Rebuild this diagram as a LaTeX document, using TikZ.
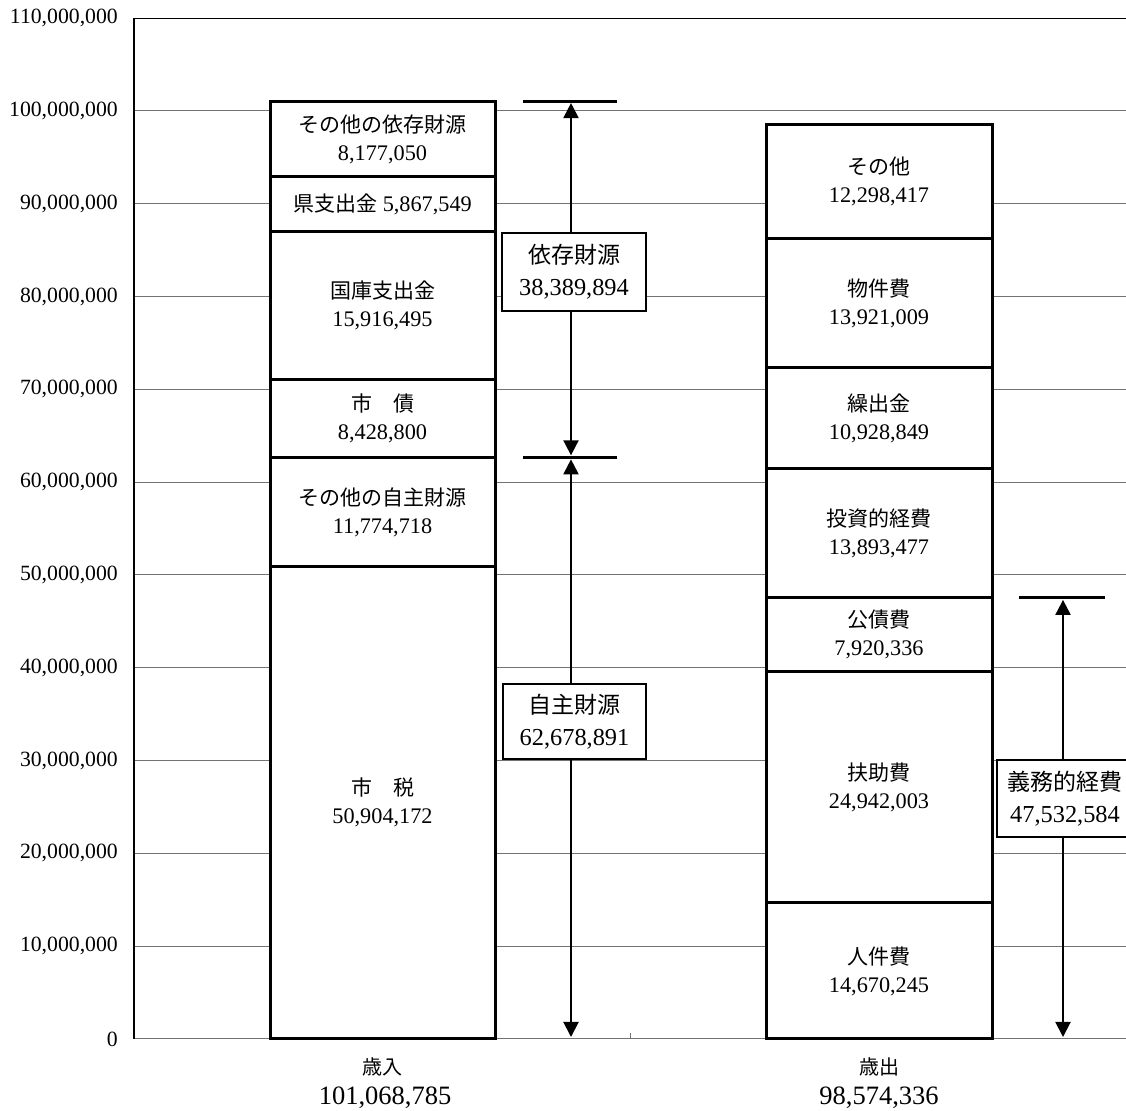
\documentclass[tikz,border=0pt]{standalone}
\usepackage{fontspec}
\setmainfont{Liberation Serif}[Scale=1.06]
\newfontfamily\jp{Noto Sans CJK JP}
\usetikzlibrary{arrows.meta,calc}
\tikzset{
  gridline/.style={draw=black!55, line width=1pt},
  frameline/.style={draw=black, line width=1.2pt},
  barseg/.style={draw=black, fill=white, line width=3pt},
  seglabel/.style={align=center, font=\fontsize{21}{28}\selectfont, inner sep=0pt},
  axlabel/.style={anchor=east, font=\fontsize{20.5}{24}\selectfont, inner sep=0pt},
  sumbox/.style={draw=black, fill=white, line width=2pt, align=center,
    font=\fontsize{23}{32}\selectfont, inner sep=0pt},
  dimarrow/.style={line width=2pt, {Triangle[length=15pt,width=15pt]}-{Triangle[length=15pt,width=15pt]}},
  capline/.style={line width=3pt},
  catlabel/.style={font=\jp\fontsize{20}{24}\selectfont, inner sep=0pt},
  totlabel/.style={font=\fontsize{25}{28}\selectfont, inner sep=0pt},
}
\begin{document}
\begin{tikzpicture}[x=1pt,y=1pt]
\useasboundingbox (0,0) rectangle (1126,1110);
\clip (0,0) rectangle (1126,1110);

% grid lines
\foreach \k in {1,...,10}{
  \draw[gridline] (134,{71+92.8*\k}) -- (1130,{71+92.8*\k});
}
% axis labels
\foreach \k/\t in {0/0,1/{10,000,000},2/{20,000,000},3/{30,000,000},4/{40,000,000},
  5/{50,000,000},6/{60,000,000},7/{70,000,000},8/{80,000,000},9/{90,000,000},
  10/{100,000,000},11/{110,000,000}}{
  \node[axlabel] (yl\k) at (118,{71+92.8*\k}) {\t};
}
% frame
\draw[gridline] (134,71) -- (1130,71);
\draw[gridline] (630,71) -- (630,77);
\draw[frameline] (134,71) -- (134,1091.8) -- (1130,1091.8);

% left bar coordinates (revenue)
\coordinate (L0) at (382.5,71);
\coordinate (L1) at (382.5,543.39);
\coordinate (L2) at (382.5,652.65);
\coordinate (L3) at (382.5,730.88);
\coordinate (L4) at (382.5,878.58);
\coordinate (L5) at (382.5,933.03);
\coordinate (L6) at (382.5,1008.92);
% right bar coordinates (expenditure)
\coordinate (R0) at (879,71);
\coordinate (R1) at (879,207.14);
\coordinate (R2) at (879,438.60);
\coordinate (R3) at (879,512.10);
\coordinate (R4) at (879,641.03);
\coordinate (R5) at (879,742.45);
\coordinate (R6) at (879,871.64);
\coordinate (R7) at (879,985.77);

\foreach \a/\b in {L0/L1,L1/L2,L2/L3,L3/L4,L4/L5,L5/L6}{
  \draw[barseg] ([xshift=-112.5pt]\a) rectangle ([xshift=112.5pt]\b);
}
\foreach \a/\b in {R0/R1,R1/R2,R2/R3,R3/R4,R4/R5,R5/R6,R6/R7}{
  \draw[barseg] ([xshift=-113pt]\a) rectangle ([xshift=113pt]\b);
}

% left bar labels
\node[seglabel] (s1) at ($(L0)!0.5!(L1)$) {{\jp 市　税}\\50,904,172};
\node[seglabel] (s2) at ($(L1)!0.5!(L2)$) {{\jp その他の自主財源}\\11,774,718};
\node[seglabel] (s3) at ($(L2)!0.5!(L3)$) {{\jp 市　債}\\8,428,800};
\node[seglabel] (s4) at ($(L3)!0.5!(L4)$) {{\jp 国庫支出金}\\15,916,495};
\node[seglabel] (s5) at ($(L4)!0.5!(L5)$) {{\jp 県支出金} 5,867,549};
\node[seglabel] (s6) at ($(L5)!0.5!(L6)$) {{\jp その他の依存財源}\\8,177,050};
% right bar labels
\node[seglabel] (e1) at ($(R0)!0.5!(R1)$) {{\jp 人件費}\\14,670,245};
\node[seglabel] (e2) at ($(R1)!0.5!(R2)$) {{\jp 扶助費}\\24,942,003};
\node[seglabel] (e3) at ($(R2)!0.5!(R3)$) {{\jp 公債費}\\7,920,336};
\node[seglabel] (e4) at ($(R3)!0.5!(R4)$) {{\jp 投資的経費}\\13,893,477};
\node[seglabel] (e5) at ($(R4)!0.5!(R5)$) {{\jp 繰出金}\\10,928,849};
\node[seglabel] (e6) at ($(R5)!0.5!(R6)$) {{\jp 物件費}\\13,921,009};
\node[seglabel] (e7) at ($(R6)!0.5!(R7)$) {{\jp その他}\\12,298,417};

% left dimension arrows
\coordinate (Atop) at (571,1008.92);
\coordinate (Amid) at (571,652.65);
\coordinate (Abot) at (571,73);
\draw[capline] ([xshift=-48pt]Atop) -- ([xshift=46pt]Atop);
\draw[capline] ([xshift=-48pt]Amid) -- ([xshift=46pt]Amid);
\draw[dimarrow] ([yshift=2pt]Amid) -- ([yshift=-2pt]Atop);
\draw[dimarrow] ([yshift=-2pt]Amid) -- (Abot);
\node[sumbox, minimum width=144pt, minimum height=78pt] (dep) at (574,838) {{\jp 依存財源}\\38,389,894};
\node[sumbox, minimum width=143pt, minimum height=75pt] (own) at (574.5,388.5) {{\jp 自主財源}\\62,678,891};

% right dimension arrow
\coordinate (Btop) at (1063,512.10);
\coordinate (Bbot) at (1063,73);
\draw[capline] ([xshift=-44pt]Btop) -- ([xshift=42pt]Btop);
\draw[dimarrow] ([yshift=-2pt]Btop) -- (Bbot);
\node[sumbox, minimum width=136pt, minimum height=77pt] (duty) at (1065,311.5) {{\jp 義務的経費}\\47,532,584};

% category labels
\node[catlabel] (inc) at (382.5,43) {歳入};
\node[totlabel] (inctot) at (385,12) {101,068,785};
\node[catlabel] (exp) at (879,43) {歳出};
\node[totlabel] (exptot) at (879,12) {98,574,336};
\end{tikzpicture}
\end{document}
